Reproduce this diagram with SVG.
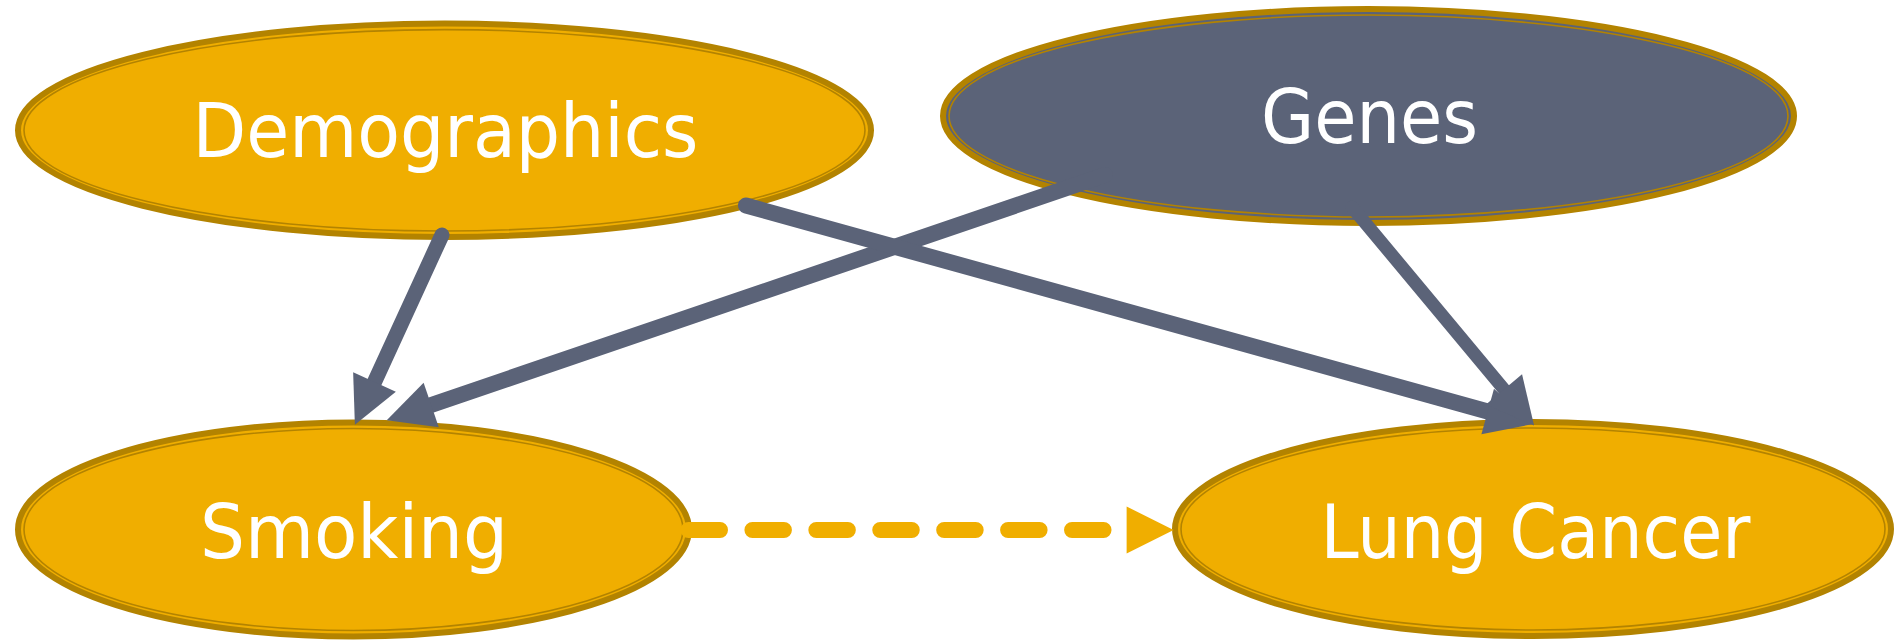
<svg xmlns="http://www.w3.org/2000/svg" width="1896" height="641" viewBox="0 0 1896 641">
  <style>
    .outer { stroke: #B38300; stroke-width: 6; }
    .inner { fill: none; stroke: #B38300; stroke-width: 1.6; }
    .gold { fill: #F0AE00; }
    .slate { fill: #5B6378; }
    .label { font-family: "DejaVu Sans Condensed", "DejaVu Sans", sans-serif; font-stretch: condensed; font-size: 74px; fill: #FFFFFF; text-anchor: middle; }
    .edge { fill: none; stroke: #5B6378; stroke-linecap: round; }
    .dashed { fill: none; stroke: #F0AE00; stroke-width: 16; stroke-linecap: round; stroke-dasharray: 31.5 32.42; }
  </style>
  <defs>
    <marker id="ahGray" markerUnits="userSpaceOnUse" viewBox="0 0 47 47" markerWidth="47" markerHeight="47" refX="0" refY="23.5" orient="auto" overflow="visible">
      <path d="M0,0 L47,23.5 L0,47 Z" fill="#5B6378"/>
    </marker>
    <marker id="ahGold" markerUnits="userSpaceOnUse" viewBox="0 0 47 47" markerWidth="47" markerHeight="47" refX="0" refY="23.5" orient="auto" overflow="visible">
      <path d="M0,0 L47,23.5 L0,47 Z" fill="#F0AE00"/>
    </marker>
  </defs>
  <rect width="1896" height="641" fill="#FFFFFF"/>

  <g id="node-demographics">
    <ellipse class="outer gold" cx="444.5" cy="130.3" rx="426.5" ry="106.7"/>
    <ellipse class="inner" cx="444.5" cy="130.3" rx="420.5" ry="100.7"/>
    <text class="label" x="445.5" y="157" textLength="506" lengthAdjust="spacingAndGlyphs">Demographics</text>
  </g>
  <g id="node-genes">
    <ellipse class="outer slate" cx="1368.5" cy="116" rx="425.5" ry="107"/>
    <ellipse class="inner" cx="1368.5" cy="116" rx="419.5" ry="101"/>
    <text class="label" x="1369.5" y="143" textLength="217" lengthAdjust="spacingAndGlyphs">Genes</text>
  </g>
  <g id="node-smoking">
    <ellipse class="outer gold" cx="353.5" cy="529.5" rx="335.5" ry="107"/>
    <ellipse class="inner" cx="353.5" cy="529.5" rx="329.5" ry="101"/>
    <text class="label" x="354" y="557.5" textLength="308" lengthAdjust="spacingAndGlyphs">Smoking</text>
  </g>
  <g id="node-lung-cancer">
    <ellipse class="outer gold" cx="1533" cy="529" rx="358" ry="107"/>
    <ellipse class="inner" cx="1533" cy="529" rx="352" ry="101"/>
    <text class="label" x="1535.5" y="557.5" textLength="430" lengthAdjust="spacingAndGlyphs">Lung Cancer</text>
  </g>

  <g id="connectors">
    <path id="edge-demographics-smoking" class="edge" stroke-width="15" d="M442,235 L374.5,382" marker-end="url(#ahGray)"/>
    <path id="edge-genes-smoking" class="edge" stroke-width="16" d="M1105,175 L431.2,405" marker-end="url(#ahGray)"/>
    <path id="edge-demographics-lungcancer" class="edge" stroke-width="16" d="M746,205.5 L1487.7,411.5" marker-end="url(#ahGray)"/>
    <path id="edge-genes-lungcancer" class="edge" stroke-width="13" d="M1352,207 L1504,389.4" marker-end="url(#ahGray)"/>
    <path id="edge-smoking-lungcancer" class="dashed" d="M688.5,530 L1126.6,530" marker-end="url(#ahGold)"/>
  </g>
</svg>
